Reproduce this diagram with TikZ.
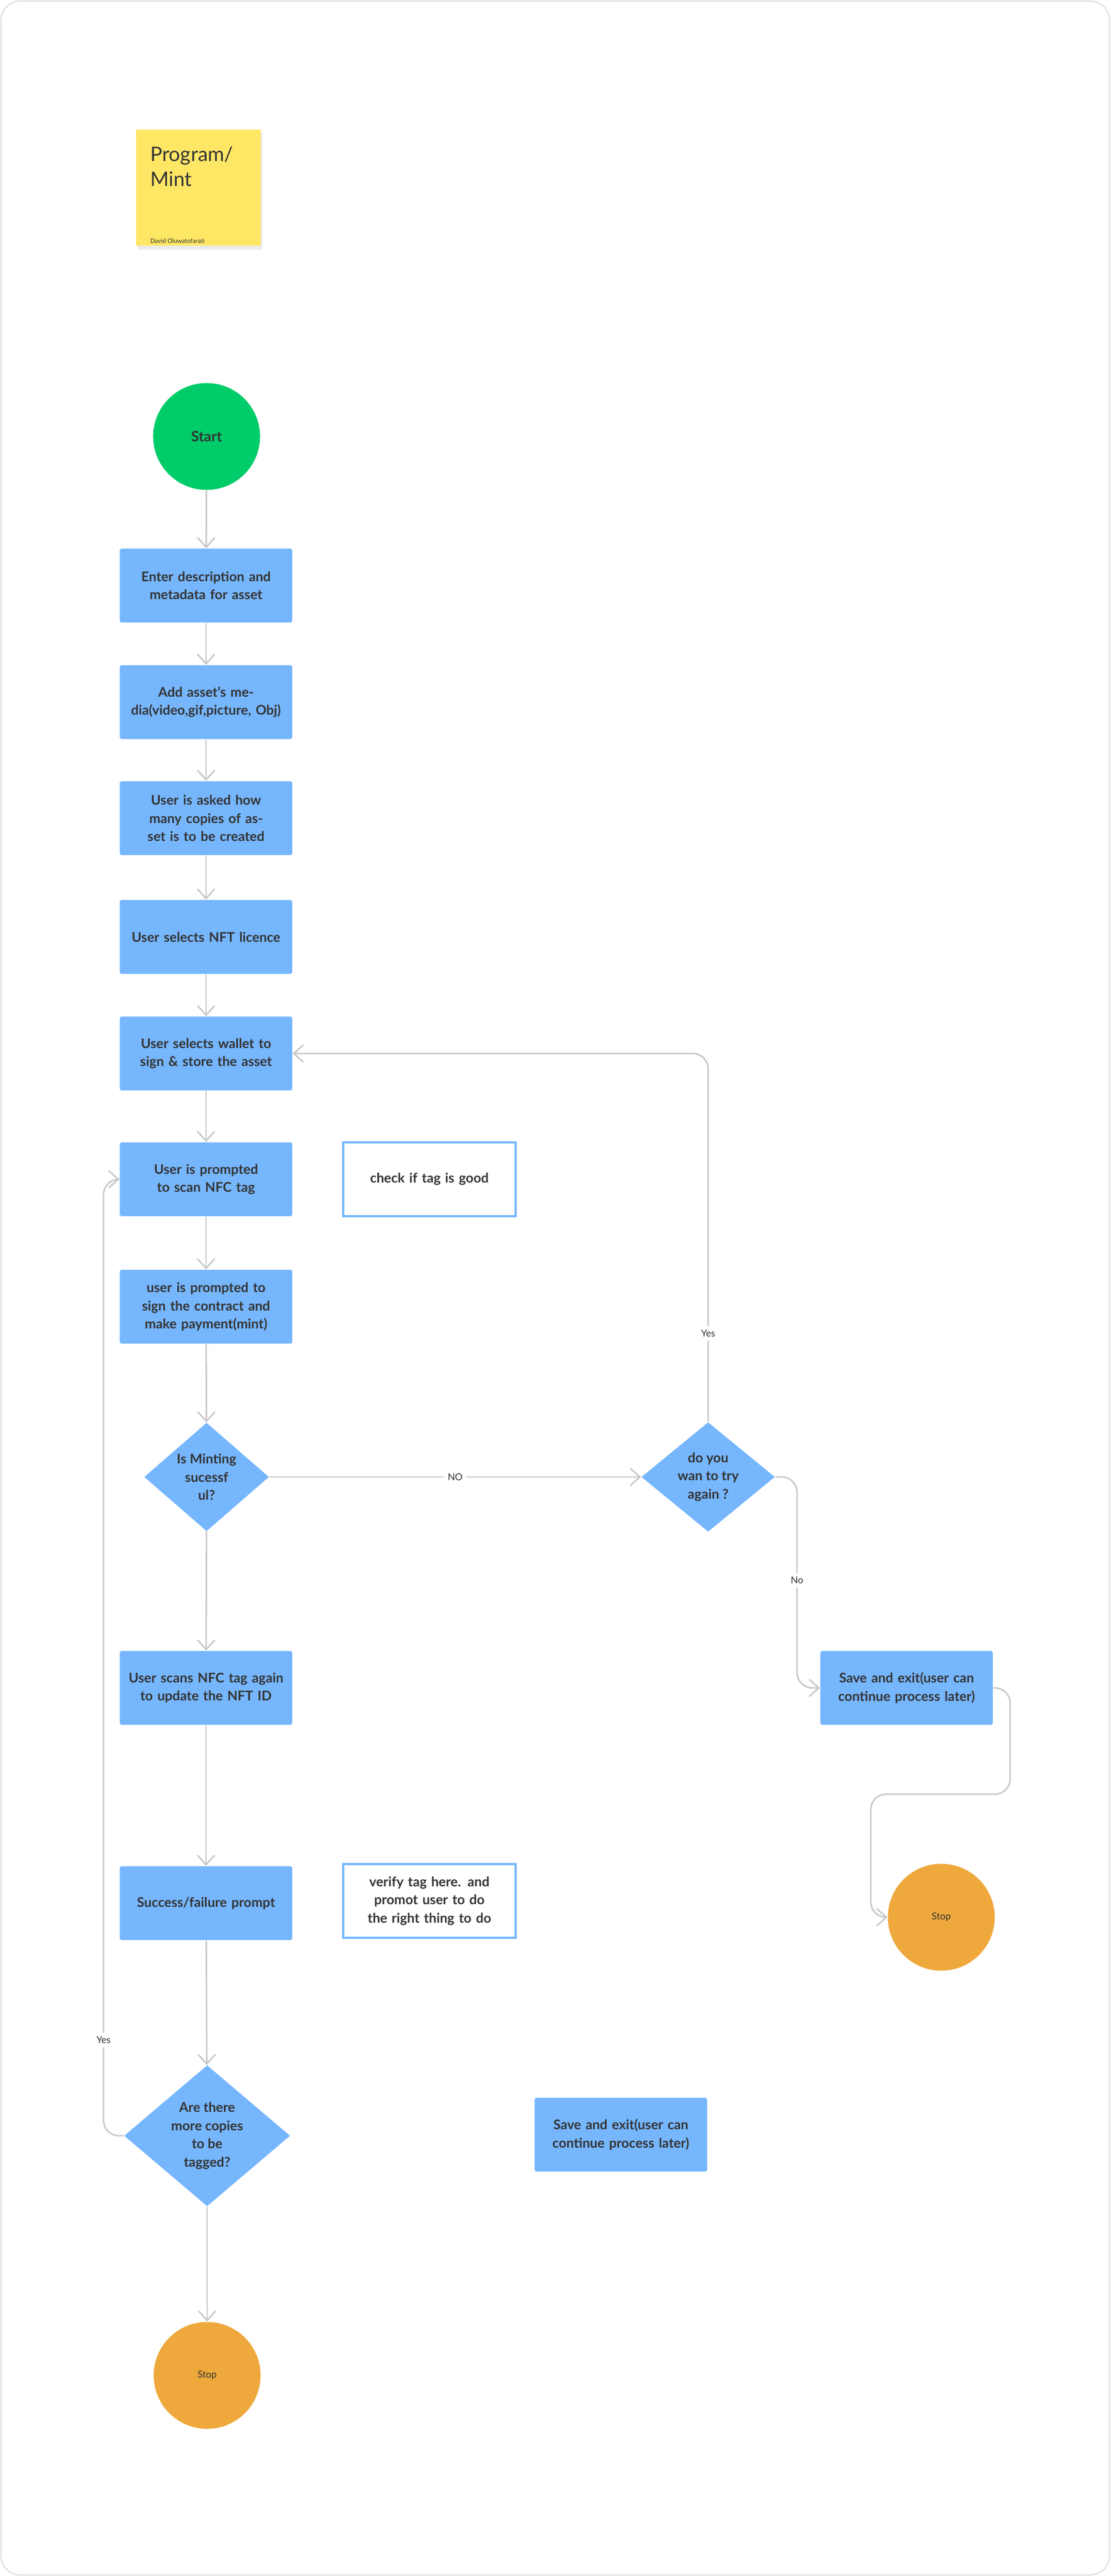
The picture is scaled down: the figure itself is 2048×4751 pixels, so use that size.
\documentclass[tikz,border=0pt]{standalone}
\usepackage{fontspec}
\setmainfont{Lato}
\usetikzlibrary{shapes.geometric,arrows.meta}
\definecolor{bl}{HTML}{76B6FD}
\definecolor{gr}{HTML}{00CC6A}
\definecolor{og}{HTML}{EEA83C}
\definecolor{yl}{HTML}{FFE766}
\definecolor{tx}{HTML}{333333}
\definecolor{ln}{HTML}{C8C8C8}
\begin{document}
\begin{tikzpicture}[x=0.01cm,y=-0.01cm,
  box/.style={draw=none,fill=bl,rounded corners=1pt,minimum width=3.18cm,minimum height=1.36cm,text width=2.9cm,align=center,font=\fontsize{7}{9.5}\selectfont\bfseries,text=tx},
  note/.style={box,fill=white,draw=bl,line width=1.2pt,rounded corners=0pt},
  dia/.style={diamond,fill=bl,inner sep=0pt,align=center,font=\fontsize{7}{9.5}\selectfont\bfseries,text=tx},
  circ/.style={circle,minimum size=1.97cm,inner sep=0pt,text=tx},
  con/.style={draw=ln,line width=0.8pt,rounded corners=8pt,-{Straight Barb[length=5pt,width=9pt]}},
  lab/.style={fill=white,font=\fontsize{5}{6}\selectfont,text=tx,inner sep=2pt}]
\fill[white] (0,0) rectangle (2048,4751);
\draw[ln!60,line width=0.6pt,rounded corners=10pt] (2,2) rectangle (2046,4749);
% sticky
\fill[black!8] (254,245) rectangle (484,460);
\fill[yl] (251,239) rectangle (481,453);
\node[anchor=north west,font=\fontsize{10.5}{13}\selectfont,text=tx,align=left] (title) at (265,258) {Program/\\Mint};
\node[anchor=west,font=\fontsize{3.2}{4}\selectfont,text=tx] (auth) at (265,444) {David Oluwatofarati};
% nodes
\node[circ,fill=gr,font=\fontsize{7.5}{9}\selectfont\bfseries] (start) at (381,805) {Start};
\node[box] (b1) at (380,1080) {Enter description and metadata for asset};
\node[box] (b2) at (380,1295) {Add asset's media(video,gif,picture, Obj)};
\node[box] (b3) at (380,1509) {User is asked how many copies of asset is to be created};
\node[box] (b4) at (380,1728) {User selects NFT licence};
\node[box] (b5) at (380,1943) {User selects wallet to sign \& store the asset};
\node[box] (b6) at (380,2175) {User is prompted to scan NFC tag};
\node[note] (chk) at (792,2175) {check if tag is good};
\node[box] (b7) at (380,2410) {user is prompted to sign the contract and make payment(mint)};
\node[dia,minimum width=2.3cm,minimum height=2.0cm] (d1) at (381,2724) {Is Minting\\sucessf\\ul?};
\node[dia,minimum width=2.46cm,minimum height=2.0cm] (d2) at (1306,2724) {do you\\wan to try\\again ?};
\node[box] (b8) at (380,3113) {User scans NFC tag again to update the NFT ID};
\node[box] (sv1) at (1672,3113) {Save and exit(user can continue process later)};
\node[circ,fill=og,font=\fontsize{5}{6}\selectfont] (stop1) at (1736,3536) {Stop};
\node[box] (b9) at (380,3510) {Success/failure prompt};
\node[note] (ver) at (792,3506) {verify tag here. and promot user to do the right thing to do};
\node[dia,minimum width=3.06cm,minimum height=2.6cm] (d3) at (382,3939) {Are there\\more copies\\to be\\tagged?};
\node[box] (sv2) at (1145,3937) {Save and exit(user can continue process later)};
\node[circ,fill=og,font=\fontsize{5}{6}\selectfont] (stop2) at (382,4381) {Stop};
% connectors
\draw[con] (start) -- (b1);
\draw[con] (b1) -- (b2);
\draw[con] (b2) -- (b3);
\draw[con] (b3) -- (b4);
\draw[con] (b4) -- (b5);
\draw[con] (b5) -- (b6);
\draw[con] (b6) -- (b7);
\draw[con] (b7) -- (d1);
\draw[con] (d1) -- (b8);
\draw[con] (b8) -- (b9);
\draw[con] (b9) -- (d3);
\draw[con] (d3) -- (stop2);
\draw[con] (d1.east) -- node[lab]{NO} (d2.west);
\draw[con] (d2.north) -- node[lab,pos=0.24]{Yes} (1306,1943) -- (b5.east);
\draw[con] (d2.east) -- (1470,2724) -- node[lab,pos=0.49]{No} (1470,3113) -- (sv1.west);
\draw[con] (sv1.east) -- (1863,3113) -- (1863,3309) -- (1606,3309) -- (1606,3536) -- (stop1.west);
\draw[con] (d3.west) -- (191,3939) -- node[lab,pos=0.1]{Yes} (191,2175) -- (b6.west);
\end{tikzpicture}
\end{document}
